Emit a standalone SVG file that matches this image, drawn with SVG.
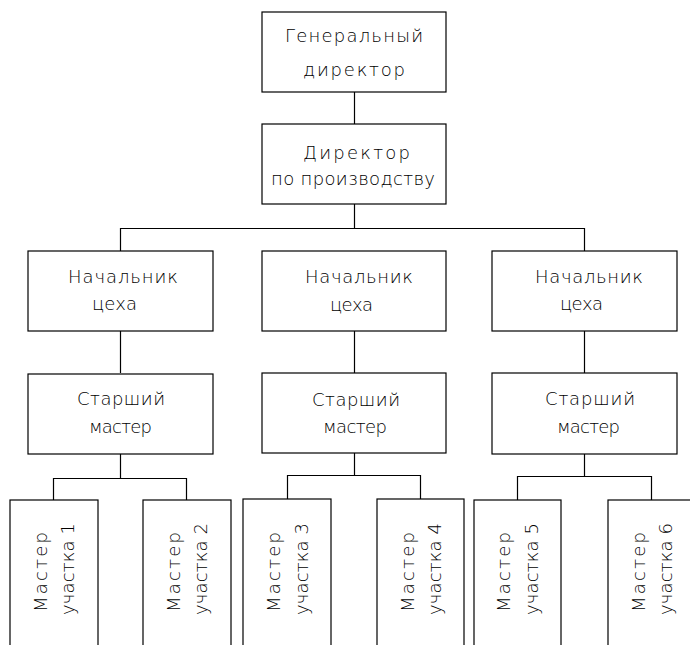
<svg xmlns="http://www.w3.org/2000/svg" width="690" height="645" viewBox="0 0 690 645">
<style>
.box{fill:#fff;stroke:#000;stroke-width:1.2}
.ln{stroke:#000;stroke-width:1.2;fill:none}
text{font-family:"DejaVu Sans","Liberation Sans",sans-serif;font-size:18px;font-weight:200;fill:#000}
</style>
<rect width="690" height="645" fill="#fff"/>
<g id="connectors" class="ln">
<path d="M354.5 92V124"/>
<path d="M354.5 204V228.5M120.5 251V228.5H584.5V251"/>
<path d="M120.5 331V373M354.5 331V373M584.5 331V373"/>
<path d="M120.5 454V478.5M53.5 500V478.5H186.5V500"/>
<path d="M354.5 453V475.5M287.5 499V475.5H420.5V499"/>
<path d="M584.5 454V476.5M517.5 500V476.5H651.5V500"/>
</g>
<g id="gen-director">
<rect class="box" x="262" y="12" width="184" height="80"/>
<text x="285" y="42" textLength="138" lengthAdjust="spacing">Генеральный</text>
<text x="303" y="76" textLength="102" lengthAdjust="spacing">директор</text>
</g>
<g id="prod-director">
<rect class="box" x="262" y="124" width="184" height="80"/>
<text x="303" y="159" textLength="107" lengthAdjust="spacing">Директор</text>
<text x="271" y="185" textLength="164" lengthAdjust="spacing">по производству</text>
</g>
<g id="shop-head-1">
<rect class="box" x="28" y="251" width="185" height="80"/>
<text x="68" y="283" textLength="110" lengthAdjust="spacing">Начальник</text>
<text x="92" y="310" textLength="45" lengthAdjust="spacing">цеха</text>
</g>
<g id="shop-head-2">
<rect class="box" x="262" y="251" width="184" height="80"/>
<text x="305" y="283" textLength="108" lengthAdjust="spacing">Начальник</text>
<text x="330" y="311" textLength="43" lengthAdjust="spacing">цеха</text>
</g>
<g id="shop-head-3">
<rect class="box" x="492" y="251" width="185" height="80"/>
<text x="535" y="283" textLength="108" lengthAdjust="spacing">Начальник</text>
<text x="560" y="310" textLength="43" lengthAdjust="spacing">цеха</text>
</g>
<g id="senior-master-1">
<rect class="box" x="28" y="374" width="185" height="80"/>
<text x="77" y="405" textLength="88" lengthAdjust="spacing">Старший</text>
<text x="89" y="433" textLength="63" lengthAdjust="spacing">мастер</text>
</g>
<g id="senior-master-2">
<rect class="box" x="262" y="373" width="184" height="80"/>
<text x="312" y="406" textLength="88" lengthAdjust="spacing">Старший</text>
<text x="323" y="433" textLength="64" lengthAdjust="spacing">мастер</text>
</g>
<g id="senior-master-3">
<rect class="box" x="492" y="373" width="185" height="81"/>
<text x="545" y="405" textLength="90" lengthAdjust="spacing">Старший</text>
<text x="557" y="433" textLength="63" lengthAdjust="spacing">мастер</text>
</g>
<g id="master-1">
<rect class="box" x="10" y="500" width="88" height="160"/>
<text transform="translate(47,612) rotate(-90)" textLength="80" lengthAdjust="spacing">Мастер</text>
<text transform="translate(74,615) rotate(-90)" textLength="92" lengthAdjust="spacing">участка 1</text>
</g>
<g id="master-2">
<rect class="box" x="143" y="500" width="88" height="160"/>
<text transform="translate(180,612) rotate(-90)" textLength="80" lengthAdjust="spacing">Мастер</text>
<text transform="translate(207,615) rotate(-90)" textLength="92" lengthAdjust="spacing">участка 2</text>
</g>
<g id="master-3">
<rect class="box" x="243" y="499" width="88" height="160"/>
<text transform="translate(280,612) rotate(-90)" textLength="80" lengthAdjust="spacing">Мастер</text>
<text transform="translate(308,615) rotate(-90)" textLength="92" lengthAdjust="spacing">участка 3</text>
</g>
<g id="master-4">
<rect class="box" x="377" y="499" width="87" height="160"/>
<text transform="translate(414,612) rotate(-90)" textLength="80" lengthAdjust="spacing">Мастер</text>
<text transform="translate(441,615) rotate(-90)" textLength="92" lengthAdjust="spacing">участка 4</text>
</g>
<g id="master-5">
<rect class="box" x="474" y="500" width="87" height="160"/>
<text transform="translate(510,612) rotate(-90)" textLength="80" lengthAdjust="spacing">Мастер</text>
<text transform="translate(538,615) rotate(-90)" textLength="92" lengthAdjust="spacing">участка 5</text>
</g>
<g id="master-6">
<rect class="box" x="608" y="500" width="88" height="160"/>
<text transform="translate(645,612) rotate(-90)" textLength="80" lengthAdjust="spacing">Мастер</text>
<text transform="translate(672,615) rotate(-90)" textLength="92" lengthAdjust="spacing">участка 6</text>
</g>
</svg>
